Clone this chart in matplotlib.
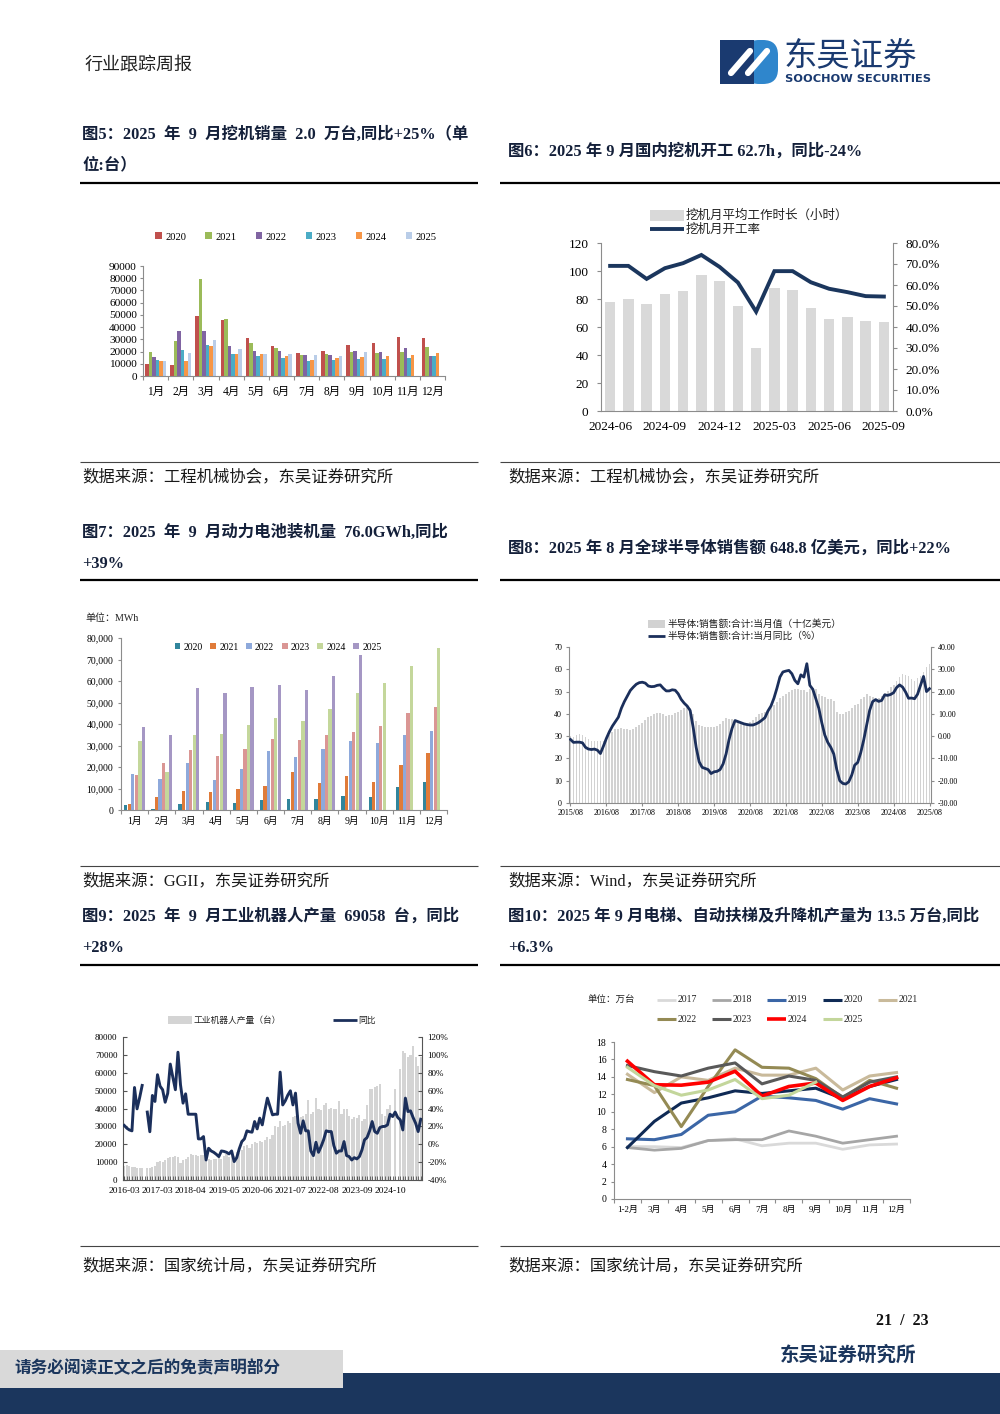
import numpy as np
import matplotlib
matplotlib.use('Agg')
import matplotlib.pyplot as plt
from matplotlib.patches import Rectangle, FancyBboxPatch
from matplotlib.lines import Line2D
import matplotlib.ticker as mticker

nan = np.nan
# ---------------- data ----------------
months12 = ['1月', '2月', '3月', '4月', '5月', '6月', '7月', '8月', '9月', '10月', '11月', '12月']

# Fig 5 excavator sales (units)
exc_years = ['2020', '2021', '2022', '2023', '2024', '2025']
exc_2020 = [9600, 9300, 49000, 45700, 31500, 24600, 19000, 20800, 25700, 26800, 31700, 31200]
exc_2021 = [19700, 28400, 79000, 46500, 27100, 23000, 17500, 17800, 19400, 18600, 20000, 23500]
exc_2022 = [15600, 37000, 37000, 24600, 20200, 20800, 17500, 17500, 20800, 20000, 23000, 16400]
exc_2023 = [12900, 21600, 25000, 18300, 16400, 15000, 12000, 13400, 13700, 13700, 14500, 16400]
exc_2024 = [12000, 12000, 24600, 18300, 17800, 16400, 13400, 14800, 15900, 16400, 17000, 18900]
exc_2025 = [12300, 19100, 29800, 22100, 17800, 18000, 17000, 16700, 19400, nan, nan, nan]

# Fig 6 excavator working hours / utilisation
months6 = ['2024-06', '2024-07', '2024-08', '2024-09', '2024-10', '2024-11', '2024-12', '2025-01',
           '2025-02', '2025-03', '2025-04', '2025-05', '2025-06', '2025-07', '2025-08', '2025-09']
hours6 = [78.0, 79.8, 76.5, 83.9, 85.5, 97.2, 92.6, 74.9, 44.9, 88.2, 86.3, 73.9, 65.4, 67.3, 64.4, 63.5]
rate6 = [69.1, 69.1, 62.9, 68.0, 70.4, 74.3, 68.6, 61.2, 47.3, 66.6, 66.6, 61.3, 58.2, 56.6, 54.7, 54.5]

# Fig 7 power battery installations (MWh)
bat_years = ['2020', '2021', '2022', '2023', '2024', '2025']
bat_2020 = [2300, 600, 2600, 3700, 3400, 4600, 5000, 5100, 6500, 6000, 10500, 12800]
bat_2021 = [2800, 5900, 9000, 8500, 9800, 11100, 17500, 12500, 15600, 13200, 20900, 26300]
bat_2022 = [16700, 14400, 22000, 13900, 19200, 27600, 24800, 28300, 32200, 31000, 34800, 36700]
bat_2023 = [16100, 21800, 27700, 25200, 28200, 32800, 32400, 35000, 36400, 39200, 44900, 48000]
bat_2024 = [32300, 17800, 35000, 35400, 39600, 42900, 41500, 47200, 54300, 59100, 67200, 75200]
bat_2025 = [38800, 35000, 56600, 54200, 57000, 58000, 55900, 62500, 72000, nan, nan, nan]

# Fig 8 global semiconductor sales 2015/08 - 2025/08
semi_ticks = ['2015/08', '2016/08', '2017/08', '2018/08', '2019/08', '2020/08',
              '2021/08', '2022/08', '2023/08', '2024/08', '2025/08']
semi_sales = [30.0, 29.7, 30.5, 30.8, 30.5,
              29.7, 28.5, 28.0, 27.9, 27.8, 27.8, 28.0, 28.5, 30.5, 32.0, 33.0, 33.2,
              33.5, 33.0, 33.0, 32.7, 33.2, 34.0, 35.0, 36.0, 37.3, 38.5, 39.0, 40.0,
              40.3, 40.3, 39.8, 39.0, 39.3, 39.7, 40.5, 41.0, 41.8, 42.5, 43.3, 42.5,
              40.0, 37.0, 35.0, 34.5, 34.2, 34.0, 34.0, 34.2, 34.5, 35.5, 37.0, 38.0,
              37.8, 37.5, 37.2, 37.0, 36.5, 36.0, 36.0, 36.5, 37.2, 38.5, 40.0, 40.5,
              40.7, 41.5, 43.0, 44.0, 45.5, 47.0, 48.0, 49.0, 50.0, 50.5, 51.0, 51.0,
              50.7, 50.5, 50.0, 51.0, 51.5, 51.0, 49.0, 48.0, 47.4, 46.6, 46.6, 45.6,
              41.0, 40.0, 40.0, 40.7, 41.5, 42.6, 44.0, 44.5, 46.5, 47.7, 48.9, 48.0,
              47.4, 46.6, 47.0, 48.1, 49.5, 50.4, 52.0, 53.0, 54.8, 56.5, 57.8, 57.5,
              57.0, 55.6, 54.8, 56.0, 57.0, 59.0, 61.0, 62.3]
semi_yoy = [-1.5, -2.8, -2.7, -2.7, -3.0,
            -5.0, -5.8, -6.0, -5.8, -6.3, -7.8, -4.5, -1.0, 2.0, 4.5, 6.5, 8.5,
            12.5, 15.5, 18.0, 20.5, 22.0, 23.3, 24.0, 24.2, 23.8, 22.5, 22.2, 22.3,
            22.8, 23.0, 21.5, 20.3, 20.3, 20.8, 20.6, 19.0, 16.5, 14.8, 13.5, 11.5,
            4.0, -5.0, -11.5, -14.0, -14.5, -15.0, -16.8, -16.0, -15.8, -15.0, -12.5, -8.0,
            -1.5, 3.5, 7.0, 6.5, 6.0, 5.5, 5.2, 5.0, 5.0, 5.5, 6.2, 7.2,
            8.3, 11.3, 13.5, 17.0, 21.5, 26.5, 28.8, 29.2, 29.5, 28.0, 25.0, 23.5,
            27.5, 26.5, 32.5, 22.8, 21.0, 16.8, 12.5, 6.0, 0.5, -2.8, -5.0, -8.0,
            -15.0, -20.0, -21.2, -21.5, -20.5, -17.5, -13.0, -11.8, -7.5, -1.8, 5.0, 11.6,
            15.5, 16.4, 15.6, 16.0, 18.5, 18.3, 18.7, 19.5, 21.8, 23.0, 22.0, 19.8,
            17.0, 17.1, 16.8, 18.8, 22.8, 26.8, 20.0, 21.3]

# Fig 9 industrial robots output (units) and YoY (%)
robot_ticks = ['2016-03', '2017-03', '2018-04', '2019-05', '2020-06', '2021-07', '2022-08', '2023-09', '2024-10']
robot_out = [8000, 8200, 8000, 7500, 7000, 6800, 6500, 6800, nan,
             6500, 6800, 7500, 8000, 10000, 10500, 10200, 11000, 12500, 13000, 12800, 13200,
             13000, 9500, 11000, 12000, 13000, 14500, 14000, 14000, 13500,
             14000, 13800, 14000, 12000, 11000, 11500,
             12000, 13000, 12000, 13500, 14500, 13000, 14000, 13500, 15500, 15000,
             17000, 19000, 19600, 18000, 20000, 21000, 20500, 22000, 21500, 22500, 24000, 23000,
             25000, 30000, 29500, 33000, 30000, 31000, 33000, 32000,
             35000, 36000, 36500, 35500, 36000, 37000, 45000, 37000, 38000, 46000, 40000, 39000,
             42000, 43000, 40000, 40500, 39500, 40000, 44000, 37000, 40000, 40000, 36000, 34000,
             35000, 34500, 36500, 33000, 34000, 42000, 51000, 51000, 52000, 52500, 53500,
             37000, 36000, 40000, 42000, nan, 50800, nan,
             62000, 72000, 71000, 69000, 70000, 75000, 69000, 64000, 69000]
robot_yoy = [21, 18, 16, 15, 63.5, 39.6, 52, 65.8, nan, 36,
             14, 54.6, 47.9, 77.8, 65, 61, 47, 57, 89.7, 75,
             61, 103, 66.5, 46, 56.4, 33.6, 33.6, 33.6, 33.6, 6,
             6, 8.6, -17.6, -4.5, -7.5, -9, -11.2, -13.8, -7.5, -8,
             -9, -10.8, -7.5, -19.4, -15, -5, 3, 6, 15, 14,
             13.5, 25.4, 17.2, 29.2, 21.7, 37.4, 51.6, 42.2, 32.9, 33.6,
             33.6, 80.7, 44, 48.6, 55, 59.8, 44, 57.2, 23.6, 12.3,
             26.2, 15, 15, -7.5, -12.7, 2.2, -9, -2.6, 4.9, 15,
             14.2, 14.2, -1.5, -10, -7.5, -7.5, 3, -12.7, -13.8, -17.6,
             -15, -16.4, -13.8, -6.4, 4.9, 7.5, 15, 25.4, 14.2, 12.3,
             18.7, 19.8, 20, 21.7, 33.6, 31, 36, 30, 27.3, 16,
             51.6, 36.6, 37.4, 30, 23.6, 14.2, 28]

# Fig 10 elevators output (10k units)
elev_months = ['1-2月', '3月', '4月', '5月', '6月', '7月', '8月', '9月', '10月', '11月', '12月']
elev_years = ['2017', '2018', '2019', '2020', '2021', '2022', '2023', '2024', '2025']
elev_2017 = [6.0, 6.0, 5.9, 6.7, 6.9, 6.1, 6.4, 6.4, 5.7, 6.2, 6.3]
elev_2018 = [5.9, 5.6, 5.8, 6.7, 6.8, 6.8, 7.8, 7.2, 6.4, 6.8, 7.2]
elev_2019 = [6.9, 6.8, 7.4, 9.6, 10.0, 11.8, 11.6, 11.3, 10.3, 11.5, 10.9]
elev_2020 = [5.9, 8.9, 11.0, 11.6, 12.4, 12.1, 12.4, 12.7, 11.5, 12.9, 13.7]
elev_2021 = [14.3, 12.2, 14.0, 13.6, 15.0, 14.2, 14.2, 15.0, 12.5, 14.1, 14.5]
elev_2022 = [13.7, 13.0, 8.3, 12.9, 17.1, 15.1, 15.0, 13.8, 11.6, 13.6, 12.7]
elev_2023 = [15.3, 14.6, 14.1, 15.0, 15.6, 13.2, 14.1, 13.6, 11.7, 13.4, 14.0]
elev_2024 = [15.8, 13.1, 13.05, 13.4, 14.65, 11.8, 12.9, 13.3, 11.3, 12.9, 13.9]
elev_2025 = [15.1, 13.0, 11.9, 12.5, 13.7, 11.5, 11.9, 13.4, nan, nan, nan]

# ---------------- figure helpers ----------------
W, H = 1000, 1414
fig = plt.figure(figsize=(10, 14.14), dpi=100)
SER = ['Liberation Serif', 'Noto Sans CJK SC']
CJK = ['Noto Sans CJK SC', 'DejaVu Sans']
plt.rcParams['font.family'] = SER
plt.rcParams['axes.unicode_minus'] = False
NAVY = '#1B365D'
GRID = '#8c8c8c'


def add_ax(x0, y0, x1, y1):
    return fig.add_axes([x0 / W, 1 - y1 / H, (x1 - x0) / W, (y1 - y0) / H])


def ftext(x, y, s, **kw):
    kw.setdefault('va', 'center')
    fig.text(x / W, 1 - y / H, s, **kw)


def hline(x0, x1, y, lw=1.0, color='k'):
    fig.add_artist(Line2D([x0 / W, x1 / W], [1 - y / H, 1 - y / H], lw=lw, color=color,
                          solid_capstyle='butt'))


def frect(x0, y0, x1, y1, color, **kw):
    fig.add_artist(Rectangle((x0 / W, 1 - y1 / H), (x1 - x0) / W, (y1 - y0) / H,
                             transform=fig.transFigure, color=color, lw=0, **kw))


def spines(ax, keep=('left', 'bottom'), color=GRID):
    for s in ['top', 'right', 'left', 'bottom']:
        ax.spines[s].set_visible(s in keep)
        ax.spines[s].set_color(color)
        ax.spines[s].set_linewidth(0.8)


# ---------------- page header / footer ----------------
ftext(85, 65, '行业跟踪周报', fontsize=13, family=CJK, color='#222222')

axl = add_ax(715, 35, 785, 89)
axl.set_xlim(715, 785)
axl.set_ylim(89, 35)
axl.axis('off')
axl.add_patch(FancyBboxPatch((744, 40), 34, 44, boxstyle='round,pad=0,rounding_size=15',
                             color='#2F86CC', lw=0))
axl.add_patch(Rectangle((720, 40), 34, 44, color='#1A3A70', lw=0))
axl.plot([731, 750], [73, 51], color='white', lw=4.5, solid_capstyle='round')
axl.plot([748, 767], [73, 51], color='white', lw=4.5, solid_capstyle='round')
ftext(784, 56, '东吴证券', fontsize=24, family=CJK, color='#1A3A70')
ftext(785, 79, 'SOOCHOW SECURITIES', fontsize=8.2, family=['DejaVu Sans'], weight='bold',
      color='#1A3A70')

ftext(928, 1321, '21  /  23', fontsize=11.5, weight='bold', ha='right', color='#111111')
ftext(916, 1355, '东吴证券研究所', fontsize=14, weight='bold', ha='right', family=CJK, color=NAVY)
frect(0, 1373, 1000, 1414, NAVY)
frect(0, 1350, 343, 1388, '#D9D9D9')
ftext(14, 1368, '请务必阅读正文之后的免责声明部分', fontsize=12, weight='bold', family=CJK, color=NAVY)

# ---------------- titles, rules, sources ----------------
TK = dict(fontsize=11.8, weight='bold', color='#14203a', family=SER)
ftext(82, 135, '图5：2025  年  9  月挖机销量  2.0  万台,同比+25%（单', **TK)
ftext(82, 165, '位:台）', **TK)
ftext(508, 151, '图6：2025 年 9 月国内挖机开工 62.7h，同比-24%', **TK)
ftext(82, 533, '图7：2025  年  9  月动力电池装机量  76.0GWh,同比', **TK)
ftext(82, 564, '+39%', **TK)
ftext(508, 548, '图8：2025 年 8 月全球半导体销售额 648.8 亿美元，同比+22%', **TK)
ftext(82, 917, '图9：2025  年  9  月工业机器人产量  69058  台，同比', **TK)
ftext(82, 948, '+28%', **TK)
ftext(508, 917, '图10：2025 年 9 月电梯、自动扶梯及升降机产量为 13.5 万台,同比', **TK)
ftext(508, 948, '+6.3%', **TK)

for yy in (183, 580, 965):
    hline(80, 478, yy, lw=1.6)
    hline(500, 1000, yy, lw=1.6)
for yy in (462, 866, 1246):
    hline(80, 478, yy, lw=0.8, color='#444444')
    hline(500, 1000, yy, lw=0.8, color='#444444')

SK = dict(fontsize=11.8, color='#1a1a1a', family=SER)
ftext(82, 477, '数据来源：工程机械协会，东吴证券研究所', **SK)
ftext(508, 477, '数据来源：工程机械协会，东吴证券研究所', **SK)
ftext(82, 881, '数据来源：GGII，东吴证券研究所', **SK)
ftext(508, 881, '数据来源：Wind，东吴证券研究所', **SK)
ftext(82, 1266, '数据来源：国家统计局，东吴证券研究所', **SK)
ftext(508, 1266, '数据来源：国家统计局，东吴证券研究所', **SK)

# ---------------- Fig 5 ----------------
ax5 = add_ax(143, 266, 445, 376)
exc_series = [exc_2020, exc_2021, exc_2022, exc_2023, exc_2024, exc_2025]
exc_colors = ['#C0504D', '#9BBB59', '#8064A2', '#4BACC6', '#F79646', '#B9CDE8']
x12 = np.arange(12)
bw5 = 0.14
for k, (yr, vals) in enumerate(zip(exc_years, exc_series)):
    ax5.bar(x12 + (k - 2.5) * bw5, vals, width=bw5, color=exc_colors[k], label=yr, lw=0)
ax5.set_xlim(-0.5, 11.5)
ax5.set_ylim(0, 90000)
ax5.set_yticks(np.arange(0, 90001, 10000))
ax5.set_xticks(np.arange(-0.5, 12, 1))
ax5.set_xticklabels([])
ax5.set_xticks(x12, minor=True)
ax5.set_xticklabels(months12, minor=True)
ax5.tick_params(axis='x', which='minor', length=0, labelsize=8.3, pad=7)
ax5.tick_params(axis='x', which='major', length=3, color=GRID)
ax5.tick_params(axis='y', labelsize=8.2, length=2.5, color=GRID, pad=2)
spines(ax5)
ax5.legend(loc='center', bbox_to_anchor=(296 / W, 1 - 237 / H), bbox_transform=fig.transFigure,
           ncol=6, frameon=False, fontsize=7.6, handlelength=0.6, handleheight=0.6,
           handletextpad=0.35, columnspacing=1.8)

# ---------------- Fig 6 ----------------
ax6 = add_ax(601, 243, 893, 411)
x16 = np.arange(len(months6))
ax6.bar(x16, hours6, width=0.58, color='#D9D9D9', lw=0)
ax6.set_xlim(-0.5, len(months6) - 0.5)
ax6.set_ylim(0, 120)
ax6.set_yticks(np.arange(0, 121, 20))
ax6.set_xticks(x16)
ax6.set_xticklabels([m if i % 3 == 0 else '' for i, m in enumerate(months6)])
ax6.tick_params(axis='x', labelsize=9.5, length=0, pad=7)
ax6.tick_params(axis='y', labelsize=9.5, length=3, color=GRID, pad=6)
spines(ax6, keep=('left', 'bottom'))
ax6b = ax6.twinx()
ax6b.plot(x16, rate6, color=NAVY, lw=2.8, solid_joinstyle='miter')
ax6b.set_ylim(0, 80)
ax6b.set_yticks(np.arange(0, 81, 10))
ax6b.yaxis.set_major_formatter(mticker.FuncFormatter(lambda v, p: f'{v:.1f}%'))
ax6b.tick_params(axis='y', labelsize=9.5, length=3, color=GRID, pad=6)
spines(ax6b, keep=('right',))
frect(650, 210, 684, 221, '#D9D9D9')
ftext(686, 215, '挖机月平均工作时长（小时）', fontsize=9, family=CJK, color='#222222')
hline(650, 684, 229, lw=2.8, color=NAVY)
ftext(686, 229, '挖机月开工率', fontsize=9, family=CJK, color='#222222')

# ---------------- Fig 7 ----------------
ax7 = add_ax(121, 638, 447, 810)
bat_series = [bat_2020, bat_2021, bat_2022, bat_2023, bat_2024, bat_2025]
bat_colors = ['#31859C', '#E07B39', '#8EA9DB', '#DA9694', '#C4D79B', '#A597C4']
bw7 = 0.13
for k, (yr, vals) in enumerate(zip(bat_years, bat_series)):
    ax7.bar(x12 + (k - 2.5) * bw7, vals, width=bw7 * 0.92, color=bat_colors[k], label=yr, lw=0)
ax7.set_xlim(-0.5, 11.5)
ax7.set_ylim(0, 80000)
ax7.set_yticks(np.arange(0, 80001, 10000))
ax7.yaxis.set_major_formatter(mticker.FuncFormatter(lambda v, p: f'{v:,.0f}'))
ax7.set_xticks(np.arange(-0.5, 12, 1))
ax7.set_xticklabels([])
ax7.set_xticks(x12, minor=True)
ax7.set_xticklabels(months12, minor=True)
ax7.tick_params(axis='x', which='minor', length=0, labelsize=7, pad=5)
ax7.tick_params(axis='x', which='major', length=3, color=GRID)
ax7.tick_params(axis='y', labelsize=7, length=2.5, color=GRID, pad=3)
spines(ax7)
ax7.legend(loc='center', bbox_to_anchor=(278 / W, 1 - 647 / H), bbox_transform=fig.transFigure,
           ncol=6, frameon=False, fontsize=7, handlelength=0.6, handleheight=0.6,
           handletextpad=0.3, columnspacing=0.8)
ftext(85, 618, '单位：MWh', fontsize=7.2, color='#222222')

# ---------------- Fig 8 ----------------
ax8 = add_ax(569, 647, 931, 803)
x121 = np.arange(len(semi_sales))
ax8.bar(x121, semi_sales, width=0.6, color='#D2D2D2', lw=0)
ax8.set_xlim(-0.5, len(semi_sales) - 0.5)
ax8.set_ylim(0, 70)
ax8.set_yticks(np.arange(0, 71, 10))
ax8.set_xticks(np.arange(0, len(semi_sales), 12))
ax8.set_xticklabels(semi_ticks)
ax8.tick_params(axis='x', labelsize=5.8, length=2, color=GRID, pad=2)
ax8.tick_params(axis='y', labelsize=5.8, length=2, color=GRID, pad=3)
spines(ax8)
ax8b = ax8.twinx()
ax8b.plot(x121, semi_yoy, color='#1B2F5B', lw=2.0)
ax8b.set_ylim(-30, 40)
ax8b.set_yticks(np.arange(-30, 41, 10))
ax8b.yaxis.set_major_formatter(mticker.FuncFormatter(lambda v, p: f'{v:.2f}'))
ax8b.tick_params(axis='y', labelsize=5.8, length=2, color=GRID, pad=3)
spines(ax8b, keep=('right',))
frect(648, 620, 665, 628, '#D2D2D2')
ftext(668, 624, '半导体:销售额:合计:当月值（十亿美元）', fontsize=7, family=CJK, color='#222222')
hline(648, 665, 636, lw=2.0, color='#1B2F5B')
ftext(668, 636, '半导体:销售额:合计:当月同比（%）', fontsize=7, family=CJK, color='#222222')

# ---------------- Fig 9 ----------------
ax9 = add_ax(123, 1037, 422, 1180)
x117 = np.arange(len(robot_out))
ax9.bar(x117, robot_out, width=0.8, color='#D4D4D4', lw=0)
ax9.set_xlim(-0.5, len(robot_out) - 0.5)
ax9.set_ylim(0, 80000)
ax9.set_yticks(np.arange(0, 80001, 10000))
ax9.set_xticks(np.arange(0, 13 * len(robot_ticks), 13))
ax9.set_xticklabels(robot_ticks)
ax9.set_xticks(x117, minor=True)
ax9.tick_params(axis='x', which='both', direction='in', length=3, color='#555555', labelsize=6.8, pad=5)
ax9.tick_params(axis='y', direction='in', length=3, color='#555555', labelsize=6.5, pad=4)
spines(ax9, color='#555555')
ax9b = ax9.twinx()
ax9b.plot(x117, robot_yoy, color='#1B2F5B', lw=2.1)
ax9b.set_ylim(-40, 120)
ax9b.set_yticks(np.arange(-40, 121, 20))
ax9b.yaxis.set_major_formatter(mticker.FuncFormatter(lambda v, p: f'{v:.0f}%'))
ax9b.tick_params(axis='y', direction='in', length=3, color='#555555', labelsize=6.5, pad=4)
spines(ax9b, keep=('right',), color='#555555')
frect(168, 1016, 192, 1024, '#D4D4D4')
ftext(194, 1020, '工业机器人产量（台）', fontsize=6.3, family=CJK, color='#222222')
hline(333, 357, 1020, lw=2.0, color='#1B2F5B')
ftext(358, 1020, '同比', fontsize=6.3, family=CJK, color='#222222')

# ---------------- Fig 10 ----------------
ax10 = add_ax(614, 1042, 910, 1199)
elev_series = [elev_2017, elev_2018, elev_2019, elev_2020, elev_2021, elev_2022, elev_2023, elev_2024, elev_2025]
elev_colors = ['#D9D9D9', '#A6A6A6', '#3B66A6', '#0F2A55', '#C9BA9B', '#948A54', '#595959', '#FF0000', '#C3D69B']
elev_lw = [2.0, 2.0, 2.2, 2.2, 2.2, 2.2, 2.2, 2.6, 2.2]
x11 = np.arange(len(elev_months))
for yr, vals, c, lw in zip(elev_years, elev_series, elev_colors, elev_lw):
    ax10.plot(x11, vals, color=c, lw=lw, label=yr)
ax10.set_xlim(-0.5, len(elev_months) - 0.5)
ax10.set_ylim(0, 18)
ax10.set_yticks(np.arange(0, 19, 2))
ax10.set_xticks(np.arange(-0.5, len(elev_months), 1))
ax10.set_xticklabels([])
ax10.set_xticks(x11, minor=True)
ax10.set_xticklabels(elev_months, minor=True)
ax10.tick_params(axis='x', which='minor', length=0, labelsize=6.5, pad=5)
ax10.tick_params(axis='x', which='major', length=3, color=GRID)
ax10.tick_params(axis='y', labelsize=7, length=2.5, color=GRID, pad=3)
spines(ax10)
ftext(587, 1000, '单位：万台', fontsize=6.8, family=CJK, color='#222222')
leg_pos = [(657, 1000), (712, 1000), (767, 1000), (823, 1000), (878, 1000),
           (657, 1019), (712, 1019), (767, 1019), (823, 1019)]
for (lx, ly), yr, c, lw in zip(leg_pos, elev_years, elev_colors, elev_lw):
    hline(lx, lx + 19, ly, lw=lw, color=c)
    ftext(lx + 21, ly, yr, fontsize=7, color='#222222')

fig.savefig('out.png', dpi=100)
